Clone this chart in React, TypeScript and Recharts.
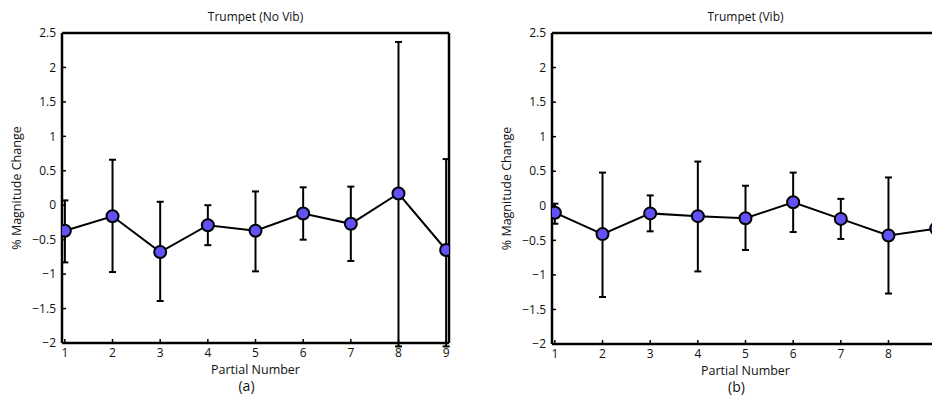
import { LineChart, Line, XAxis, YAxis, ErrorBar, Label } from 'recharts';

const partials = [1, 2, 3, 4, 5, 6, 7, 8, 9];

// Trumpet, no vibrato: mean and error bar ends (% magnitude change)
const noVibMean = [-0.37, -0.16, -0.68, -0.29, -0.37, -0.12, -0.27, 0.17, -0.65];
const noVibLow = [-0.83, -0.97, -1.39, -0.58, -0.96, -0.5, -0.81, -2.05, -2.05];
const noVibHigh = [0.07, 0.66, 0.05, 0.0, 0.2, 0.26, 0.27, 2.37, 0.67];

// Trumpet, vibrato
const vibMean = [-0.1, -0.41, -0.11, -0.15, -0.18, 0.05, -0.19, -0.43, -0.33];
const vibLow = [-0.26, -1.32, -0.37, -0.95, -0.64, -0.38, -0.48, -1.27, -0.7];
const vibHigh = [0.03, 0.48, 0.15, 0.64, 0.29, 0.48, 0.1, 0.41, 0.04];

const yTicks = [-2, -1.5, -1, -0.5, 0, 0.5, 1, 1.5, 2, 2.5];
const xDomain = [0.94, 9.06];
const yDomain = [-2, 2.5];

const FONT = '"Open Sans", "DejaVu Sans", sans-serif';
const MARKER = '#6052f6';

const fmt = (v: number) => (v < 0 ? '\u2212' + Math.abs(v) : String(v));

function buildRows(mean: number[], low: number[], high: number[]) {
  return partials.map((p, i) => ({
    partial: p,
    value: mean[i],
    err: [mean[i] - low[i], high[i] - mean[i]],
  }));
}

type PanelProps = {
  title: string;
  tag: string;
  rows: any[];
  width: number;
  left: number;
  yAxisWidth: number;
  rightSpace: number;
  bottom: number;
  ylabelOffset: number;
};

function Panel({ title, tag, rows, width, left, yAxisWidth, rightSpace, bottom, ylabelOffset }: PanelProps) {
  const tickStyle = { fontSize: 12, fill: '#111', fontFamily: FONT };
  const axisLine = { stroke: '#000', strokeWidth: 2.5 };
  const tickLine = { stroke: '#000', strokeWidth: 1.5 };
  return (
    <div style={{ position: 'absolute', left, top: 0 }}>
      <LineChart
        width={width}
        height={396}
        data={rows}
        margin={{ top: 32, right: rightSpace - 1, bottom: 0, left: 0 }}
      >
        <XAxis
          dataKey="partial"
          type="number"
          domain={xDomain}
          ticks={partials}
          allowDataOverflow
          height={bottom}
          stroke="#000"
          strokeWidth={2.5}
          axisLine={axisLine}
          tickLine={tickLine}
          tickSize={-4}
          tickMargin={9}
          tick={tickStyle}
        >
          <Label value="Partial Number" position="insideTop" offset={22} style={{ fontSize: 12.5, fill: '#111', fontFamily: FONT }} />
          <Label value={tag} position="insideTop" offset={38} dx={-9} style={{ fontSize: 14, fill: '#111', fontFamily: FONT }} />
        </XAxis>
        {/* box edges: top and right axes, ticks only */}
        <XAxis
          xAxisId="top"
          dataKey="partial"
          orientation="top"
          type="number"
          domain={xDomain}
          ticks={partials}
          allowDataOverflow
          height={1}
          stroke="#000"
          strokeWidth={2.5}
          axisLine={axisLine}
          tickLine={tickLine}
          tickSize={-4}
          tick={false}
        >
          <Label value={title} position="top" offset={11} style={{ fontSize: 12, fill: '#111', fontFamily: FONT }} />
        </XAxis>
        <YAxis
          type="number"
          domain={yDomain}
          ticks={yTicks}
          allowDataOverflow
          width={yAxisWidth}
          stroke="#000"
          strokeWidth={2.5}
          axisLine={axisLine}
          tickLine={tickLine}
          tickSize={-4}
          tickMargin={10}
          tick={tickStyle}
          tickFormatter={fmt}
          label={{
            value: '% Magnitude Change',
            angle: -90,
            position: 'insideLeft',
            offset: ylabelOffset,
            style: { textAnchor: 'middle', fontSize: 12.5, fill: '#111', fontFamily: FONT },
          }}
        />
        <YAxis
          yAxisId="right"
          orientation="right"
          type="number"
          domain={yDomain}
          ticks={yTicks}
          allowDataOverflow
          width={1}
          stroke="#000"
          strokeWidth={2.5}
          axisLine={axisLine}
          tickLine={tickLine}
          tickSize={-4}
          tick={false}
        />
        <Line
          xAxisId="top"
          yAxisId="right"
          dataKey="value"
          stroke="none"
          dot={false}
          activeDot={false}
          isAnimationActive={false}
        />
        <Line
          dataKey="value"
          stroke="#000"
          strokeWidth={2}
          isAnimationActive={false}
          dot={{ r: 6, fill: MARKER, stroke: '#000', strokeWidth: 2 }}
        >
          <ErrorBar dataKey="err" width={3.5} stroke="#000" strokeWidth={2} direction="y" />
        </Line>
      </LineChart>
    </div>
  );
}

export default function App() {
  const noVib = buildRows(noVibMean, noVibLow, noVibHigh);
  const vib = buildRows(vibMean, vibLow, vibHigh);
  return (
    <div style={{ position: 'absolute', left: 0, top: 0, width: 932, height: 396, overflow: 'hidden', background: '#fff' }}>
      <Panel title="Trumpet (No Vib)" tag="(a)" rows={noVib} width={470} left={0} yAxisWidth={62} rightSpace={21} bottom={53} ylabelOffset={17} />
      <Panel title="Trumpet (Vib)" tag="(b)" rows={vib} width={490} left={466} yAxisWidth={86} rightSpace={17} bottom={52} ylabelOffset={41} />
    </div>
  );
}
